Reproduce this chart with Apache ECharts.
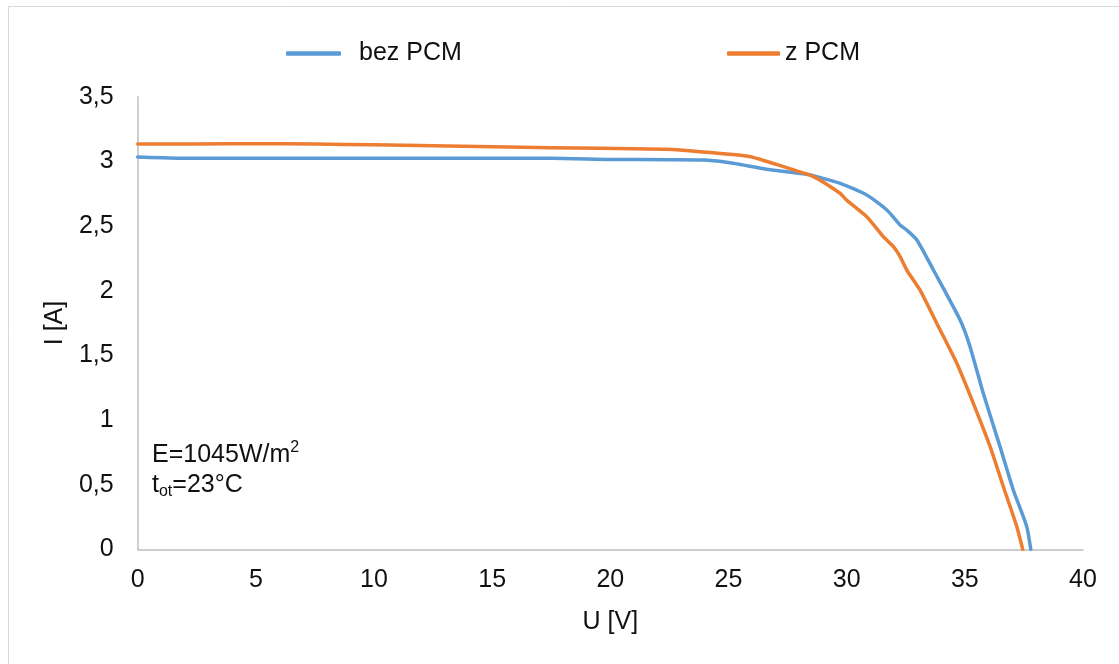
<!DOCTYPE html>
<html>
<head>
<meta charset="utf-8">
<script src="https://cdn.jsdelivr.net/npm/echarts@6/dist/echarts.min.js"></script>
<style>
  html, body { margin: 0; padding: 0; background: #fff; }
  #chart { width: 1119px; height: 664px; }
</style>
</head>
<body>
<div id="chart"></div>
<script>
// I-U characteristic of the PV module, without and with PCM
const seriesNames = ['bez PCM', 'z PCM'];

// without PCM: voltage [V] and current [A]
const uBez = [0, 1, 2, 5, 10, 15, 17.5, 20, 22.5, 24, 25.2, 26.6, 28.3, 29.7, 30.85, 31.7, 32.26, 32.54, 32.97, 33.67, 34.8, 35.22, 35.78, 36.49, 37.05, 37.62, 37.79];
const iBez = [3.034, 3.028, 3.024, 3.024, 3.024, 3.024, 3.024, 3.015, 3.013, 3.01, 2.985, 2.939, 2.90, 2.831, 2.74, 2.624, 2.508, 2.469, 2.392, 2.16, 1.773, 1.567, 1.206, 0.794, 0.459, 0.175, 0];

// with PCM: voltage [V] and current [A]
const uZ = [0, 2.5, 5, 7.5, 10, 12.5, 15, 17.5, 19.56, 22.39, 23.8, 25.92, 27.32, 28.59, 29.72, 30.0, 30.85, 31.55, 31.98, 32.26, 32.54, 33.1, 33.81, 34.66, 35.36, 36.07, 36.63, 37.2, 37.45];
const iZ = [3.135, 3.135, 3.136, 3.134, 3.128, 3.12, 3.112, 3.106, 3.101, 3.094, 3.075, 3.036, 2.959, 2.882, 2.753, 2.70, 2.572, 2.418, 2.34, 2.263, 2.16, 2.006, 1.748, 1.439, 1.129, 0.794, 0.484, 0.175, 0];

// axis ticks
const xTicks = [0, 5, 10, 15, 20, 25, 30, 35, 40];
const yTicks = [0, 0.5, 1, 1.5, 2, 2.5, 3, 3.5];

const colors = ['#5B9BD5', '#ED7D31'];
const font = 'Liberation Sans, Arial, sans-serif';
const txt = '#111';

const pairs = (u, i) => u.map((v, k) => [v, i[k]]);

const chart = echarts.init(document.getElementById('chart'), null, { renderer: 'canvas' });

chart.setOption({
  animation: false,
  backgroundColor: '#fff',
  textStyle: { fontFamily: font },
  grid: { left: 137.7, right: 36, top: 96.7, bottom: 114.7, containLabel: false },
  legend: [
    {
      data: [{ name: seriesNames[0] }],
      left: 281, top: 36,
      icon: 'roundRect',
      itemWidth: 55, itemHeight: 4.5,
      textStyle: { fontSize: 25, color: txt, fontFamily: font, padding: [0, 0, 11, 13] }
    },
    {
      data: [{ name: seriesNames[1] }],
      left: 722, top: 36,
      icon: 'roundRect',
      itemWidth: 53, itemHeight: 4.5,
      textStyle: { fontSize: 25, color: txt, fontFamily: font, padding: [5, 0, 0, 0] }
    }
  ],
  xAxis: {
    type: 'value',
    min: xTicks[0], max: xTicks[xTicks.length - 1], interval: xTicks[1] - xTicks[0],
    name: 'U [V]', nameLocation: 'middle', nameGap: 60,
    nameTextStyle: { fontSize: 25, color: txt, fontFamily: font },
    axisLine: { show: true, lineStyle: { color: '#bfbfbf', width: 1.5 } },
    axisTick: { show: false },
    splitLine: { show: false },
    axisLabel: { fontSize: 25, color: txt, margin: 18, fontFamily: font }
  },
  yAxis: {
    type: 'value',
    min: yTicks[0], max: yTicks[yTicks.length - 1], interval: yTicks[1] - yTicks[0],
    name: 'I [A]', nameLocation: 'middle', nameGap: 68, nameRotate: 90,
    nameTextStyle: { fontSize: 25, color: txt, fontFamily: font },
    axisLine: { show: true, lineStyle: { color: '#bfbfbf', width: 1.5 } },
    axisTick: { show: false },
    splitLine: { show: false },
    axisLabel: {
      fontSize: 25, color: txt, margin: 24, fontFamily: font,
      formatter: v => String(v).replace('.', ',')
    }
  },
  series: [
    {
      name: seriesNames[0], type: 'line',
      data: pairs(uBez, iBez),
      showSymbol: false, symbol: 'none',
      smooth: 0.2,
      lineStyle: { color: colors[0], width: 3.5, cap: 'round', join: 'round' },
      itemStyle: { color: colors[0] },
      z: 2
    },
    {
      name: seriesNames[1], type: 'line',
      data: pairs(uZ, iZ),
      showSymbol: false, symbol: 'none',
      smooth: 0.2,
      lineStyle: { color: colors[1], width: 3.5, cap: 'round', join: 'round' },
      itemStyle: { color: colors[1] },
      z: 3
    }
  ],
  graphic: [
    {
      type: 'rect', silent: true,
      shape: { x: 8.5, y: 6.5, width: 1200, height: 700 },
      style: { fill: 'none', stroke: '#d9d9d9', lineWidth: 1 }
    },
    {
      type: 'text', left: 152, top: 440, silent: true,
      style: {
        text: '{a|E=1045W/m}{sup|2}\n{a|t}{sub|ot}{a|=23°C}',
        fill: txt,
        rich: {
          a: { fontSize: 25, fontFamily: font, lineHeight: 30, verticalAlign: 'middle', fill: txt },
          sup: { fontSize: 16, fontFamily: font, lineHeight: 30, verticalAlign: 'top', fill: txt },
          sub: { fontSize: 16, fontFamily: font, lineHeight: 30, verticalAlign: 'bottom', fill: txt }
        }
      }
    }
  ]
});
</script>
</body>
</html>
